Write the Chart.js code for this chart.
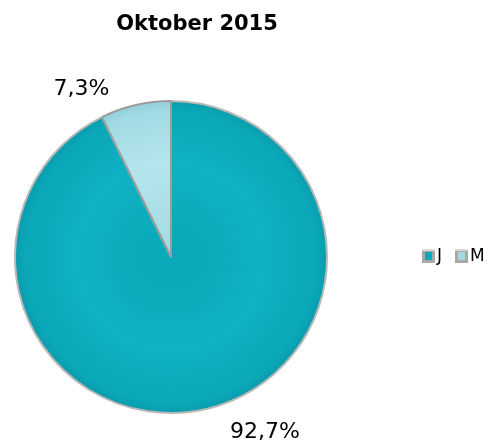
<!DOCTYPE html>
<html>
<head>
<meta charset="utf-8">
<script src="https://cdn.jsdelivr.net/npm/chart.js@4"></script>
<style>
html,body{margin:0;padding:0;background:#fff;}
#wrap{position:relative;width:498px;height:443px;}
</style>
</head>
<body>
<div id="wrap"><canvas id="c" width="498" height="443"></canvas></div>
<script>
const titleText = "Oktober 2015";
const categories = ["J", "M"];
const values = [92.7, 7.3];
const valueLabels = ["92,7%", "7,3%"];
const baseColors = ["#0AA8B9", "#A2DAE3"];
const innerColors = ["#0FB1C2", "#B4E5EC"];
const rimColors = ["#0A9BAB", "#92CFD9"];

function sliceFill(ctx) {
  const chart = ctx.chart;
  const a = chart.chartArea;
  if (!a) return baseColors[ctx.dataIndex];
  const cx = (a.left + a.right) / 2, cy = (a.top + a.bottom) / 2;
  const r = Math.min(a.right - a.left, a.bottom - a.top) / 2;
  const g = chart.ctx.createRadialGradient(cx, cy, 0, cx, cy, r);
  const i = ctx.dataIndex;
  g.addColorStop(0, baseColors[i]);
  g.addColorStop(0.6, innerColors[i]);
  g.addColorStop(0.93, baseColors[i]);
  g.addColorStop(1, rimColors[i]);
  return g;
}

const overlay = {
  id: 'overlay',
  afterDraw(chart) {
    const c = chart.ctx;
    c.save();
    // title
    c.fillStyle = '#000';
    c.font = 'bold 21px "DejaVu Sans"';
    c.textAlign = 'center';
    c.textBaseline = 'middle';
    c.fillText(titleText, 197, 25);
    // value labels
    const meta = chart.getDatasetMeta(0);
    c.font = '22px "DejaVu Sans"';
    meta.data.forEach((arc, i) => {
      const p = arc.getProps(['x', 'y', 'startAngle', 'endAngle', 'outerRadius'], true);
      const mid = (p.startAngle + p.endAngle) / 2 - 15 * Math.PI / 180;
      const rr = p.outerRadius + (i === 0 ? 43 : 34);
      c.fillText(valueLabels[i], p.x + Math.cos(mid) * rr, p.y + Math.sin(mid) * rr);
    });
    // legend
    let x = 422;
    const y = 256;
    c.font = '17px "DejaVu Sans"';
    c.textAlign = 'left';
    categories.forEach((lab, i) => {
      c.fillStyle = '#A8A8A8';
      c.fillRect(x, y - 7, 13, 14);
      c.fillStyle = '#D8D8D8';
      c.fillRect(x, y - 7, 13, 2);
      c.fillStyle = baseColors[i];
      c.fillRect(x + 3, y - 4, 7, 8);
      c.fillStyle = '#000';
      c.fillText(lab, x + 15, y + 1);
      x += 15 + c.measureText(lab).width + 13;
    });
    c.restore();
  }
};

new Chart(document.getElementById('c'), {
  type: 'pie',
  data: {
    labels: categories,
    datasets: [{
      data: values,
      backgroundColor: sliceFill,
      borderColor: ['#b8b8b8', '#9c9c9c'],
      borderWidth: 2
    }]
  },
  options: {
    responsive: false,
    animation: false,
    rotation: 0,
    layout: { padding: { left: 14, right: 170, top: 100, bottom: 29 } },
    plugins: {
      legend: { display: false },
      title: { display: false },
      tooltip: { enabled: false }
    }
  },
  plugins: [overlay]
});
</script>
</body>
</html>
